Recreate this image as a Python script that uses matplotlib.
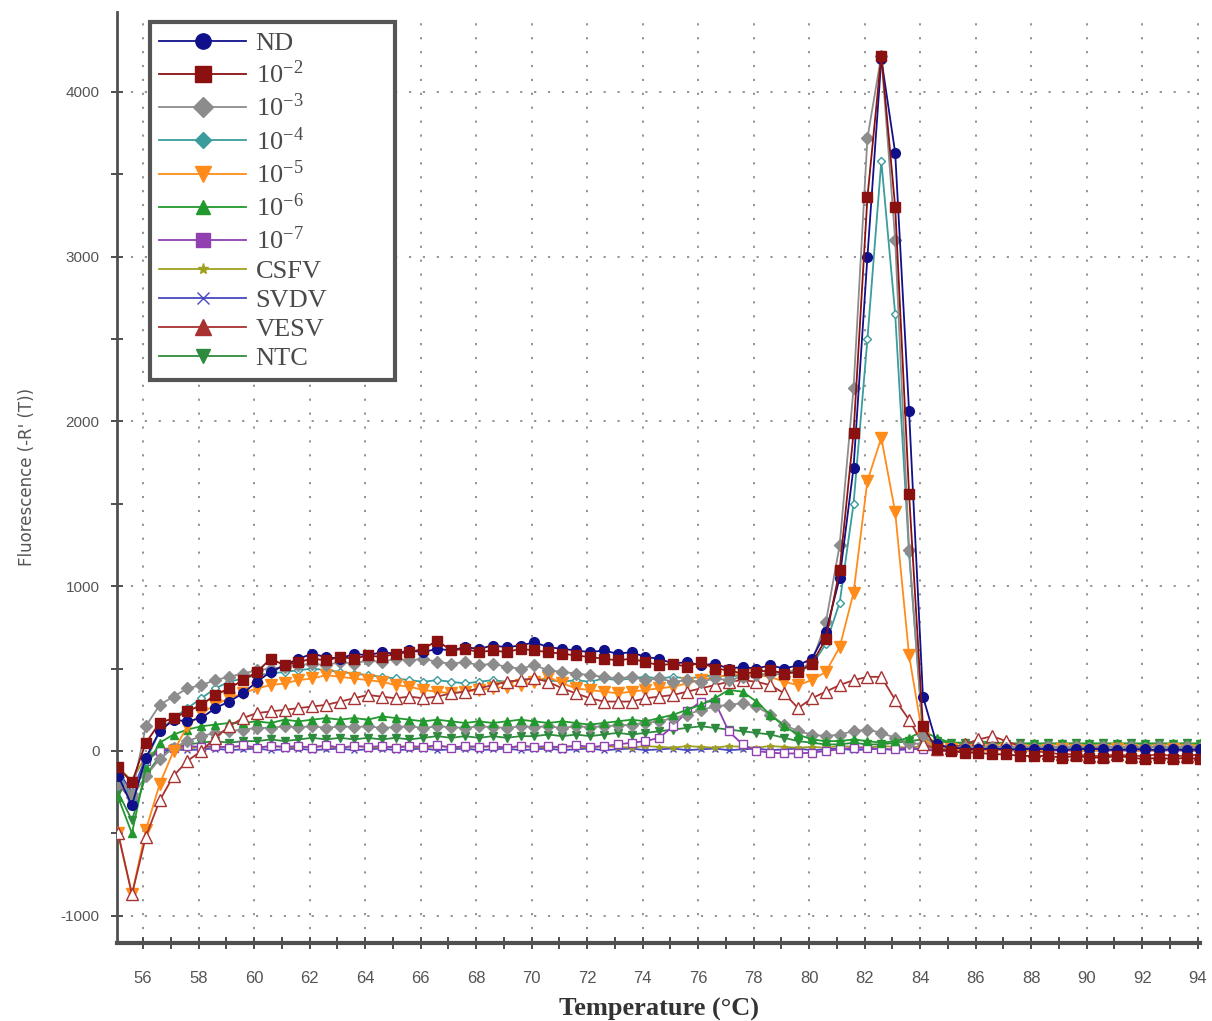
import matplotlib
matplotlib.use("Agg")
import matplotlib.pyplot as plt
import numpy as np
from matplotlib.lines import Line2D
from matplotlib.ticker import MultipleLocator

plt.rcParams['mathtext.fontset'] = 'stix'
plt.rcParams['axes.unicode_minus'] = False

# temperature grid of the melt curve (0.5 degC steps)
temp = np.arange(55.1, 94.15, 0.5)

nd = [-150, -330, -40, 120, 190, 180, 200, 260, 300, 350,
      420, 480, 520, 560, 590, 570, 560, 590, 580, 600,
      590, 610, 600, 620, 610, 630, 620, 640, 630, 640,
      660, 630, 620, 610, 600, 610, 590, 600, 570, 560,
      530, 540, 520, 530, 500, 510, 500, 520, 500, 520,
      560, 720, 1050, 1720, 3000, 4200, 3630, 2060, 330, 40,
      20, 15, 10, 15, 10, 10, 15, 10, 5, 10,
      15, 10, 5, 10, 10, 5, 10, 5, 10]
d2 = [-100, -190, 50, 170, 200, 240, 280, 340, 380, 430,
      480, 560, 520, 540, 560, 550, 570, 560, 580, 570,
      590, 600, 620, 670, 610, 620, 600, 610, 600, 620,
      610, 600, 590, 580, 570, 560, 550, 560, 540, 520,
      530, 510, 540, 500, 490, 470, 480, 490, 470, 480,
      530, 680, 1100, 1930, 3360, 4220, 3300, 1560, 150, 10,
      0, -10, -10, -20, -20, -30, -30, -30, -40, -30,
      -40, -40, -30, -40, -50, -40, -50, -40, -50]
d3 = [-160, -260, 150, 280, 330, 380, 400, 430, 450, 470,
      490, 500, 510, 520, 530, 520, 540, 530, 550, 540,
      560, 550, 560, 540, 530, 540, 520, 530, 510, 500,
      520, 490, 480, 470, 460, 450, 440, 450, 430, 440,
      420, 430, 420, 440, 430, 450, 460, 470, 480, 490,
      540, 780, 1250, 2200, 3720, 4220, 3100, 1220, 100, 20,
      20, 25, 20, 25, 20, 25, 20, 25, 20, 25,
      20, 25, 20, 25, 20, 25, 20, 25, 20]
d4 = [-120, -300, -60, 120, 200, 260, 320, 380, 420, 440,
      460, 470, 480, 490, 500, 490, 480, 470, 460, 450,
      440, 430, 420, 430, 420, 410, 420, 430, 420, 430,
      440, 430, 420, 430, 420, 440, 430, 440, 450, 440,
      450, 440, 450, 460, 450, 460, 470, 460, 470, 480,
      520, 650, 900, 1500, 2500, 3580, 2650, 1200, 100, 20,
      20, 15, 20, 25, 20, 15, 20, 25, 20, 15,
      20, 25, 20, 15, 20, 25, 20, 15, 20]
d5 = [-500, -870, -480, -200, 0, 150, 230, 280, 320, 350,
      380, 400, 410, 430, 440, 460, 450, 440, 430, 420,
      400, 390, 370, 360, 350, 360, 370, 380, 390, 400,
      420, 450, 410, 380, 370, 360, 350, 360, 370, 380,
      390, 410, 430, 450, 460, 470, 460, 450, 420, 400,
      430, 480, 630, 960, 1640, 1900, 1450, 580, 80, 10,
      10, 5, 0, 5, 10, 5, 0, 5, 10, 5,
      0, 5, 10, 5, 0, 5, 10, 5, 0]
d6 = [-280, -500, -100, 50, 100, 130, 150, 160, 170, 170,
      180, 170, 190, 180, 190, 200, 190, 200, 190, 210,
      200, 190, 180, 190, 180, 170, 180, 170, 180, 190,
      180, 170, 180, 170, 160, 170, 180, 190, 180, 200,
      220, 250, 280, 320, 370, 360, 300, 220, 150, 100,
      70, 60, 60, 70, 60, 50, 60, 80, 120, 80,
      50, 50, 60, 50, 50, 40, 50, 40, 50, 40,
      50, 40, 50, 40, 50, 40, 50, 40, 50]
d7 = [-200, -300, -60, 0, 20, 30, 25, 30, 20, 35,
      20, 30, 25, 30, 20, 35, 20, 30, 25, 30,
      20, 30, 25, 35, 20, 30, 25, 30, 20, 30,
      25, 30, 20, 35, 25, 30, 40, 50, 60, 80,
      150, 240, 300, 300, 120, 40, 0, -10, -15, -15,
      -10, 0, 10, 20, 20, 10, 10, 20, 10, 0,
      0, 5, 0, 10, 5, 0, 5, 0, 5, 0,
      5, 0, 5, 0, 5, 0, 5, 0, 0]
csfv = [-100, -180, -30, 10, 20, 15, 25, 20, 30, 25,
        20, 30, 25, 20, 30, 25, 20, 30, 25, 20,
        30, 25, 20, 30, 25, 20, 30, 25, 20, 30,
        25, 20, 30, 25, 20, 30, 25, 20, 30, 25,
        20, 30, 25, 20, 30, 25, 20, 30, 25, 20,
        25, 20, 30, 25, 20, 30, 25, 20, 30, 25,
        20, 25, 20, 25, 20, 25, 20, 25, 20, 25,
        20, 25, 20, 25, 20, 25, 20, 25, 20]
svdv = [-120, -250, -40, 0, 10, 5, 10, 15, 5, 10,
        15, 5, 10, 15, 5, 10, 15, 5, 10, 15,
        5, 10, 15, 5, 10, 15, 5, 10, 15, 5,
        10, 15, 5, 10, 15, 5, 10, 15, 5, 10,
        15, 5, 10, 15, 5, 10, 15, 5, 10, 15,
        5, 10, 15, 5, 10, 15, 5, 10, 15, 5,
        10, 5, 10, 5, 10, 5, 10, 5, 10, 5,
        10, 5, 10, 5, 10, 5, 10, 5, 10]
vesv = [-500, -870, -520, -300, -150, -60, 0, 80, 150, 200,
        230, 240, 250, 260, 270, 280, 300, 320, 340, 330,
        320, 330, 320, 330, 350, 360, 380, 400, 420, 430,
        440, 420, 380, 350, 320, 300, 300, 300, 320, 330,
        340, 360, 380, 400, 420, 430, 420, 400, 350, 260,
        320, 360, 400, 430, 450, 450, 310, 190, 40, 10,
        20, 40, 70, 90, 60, 30, 0, -10, -20, -20,
        -30, -30, -20, -30, -30, -20, -30, -30, -20]
ntc = [-250, -420, -150, -30, 20, 40, 50, 60, 50, 60,
       60, 70, 60, 70, 80, 70, 80, 70, 80, 70,
       80, 70, 80, 90, 80, 90, 80, 90, 80, 90,
       90, 100, 90, 100, 90, 100, 110, 100, 110, 120,
       130, 140, 150, 140, 130, 120, 110, 100, 80, 60,
       50, 40, 40, 50, 40, 40, 50, 60, 70, 60,
       50, 50, 40, 50, 40, 50, 40, 50, 40, 50,
       40, 50, 40, 50, 40, 50, 40, 50, 40]
# grey low band drawn in the chart but not listed in the legend
extra = [-200, -280, -150, -50, 20, 60, 90, 110, 120, 130,
         140, 140, 150, 145, 150, 140, 150, 145, 150, 140,
         145, 150, 140, 150, 145, 140, 150, 145, 140, 150,
         145, 150, 140, 150, 145, 150, 155, 160, 170, 180,
         200, 220, 250, 270, 280, 290, 270, 220, 160, 120,
         100, 90, 100, 120, 130, 110, 80, 50, 40, 30,
         25, 30, 25, 30, 25, 30, 25, 30, 25, 30,
         25, 30, 25, 30, 25, 30, 25, 30, 25]

labels = ['ND', r'10$^{\mathregular{-2}}$', r'10$^{\mathregular{-3}}$', r'10$^{\mathregular{-4}}$',
          r'10$^{\mathregular{-5}}$', r'10$^{\mathregular{-6}}$', r'10$^{\mathregular{-7}}$',
          'CSFV', 'SVDV', 'VESV', 'NTC']
series = [nd, d2, d3, d4, d5, d6, d7, csfv, svdv, vesv, ntc]
colors = ['#10108a', '#8b1010', '#8c8c8c', '#3a9c9c', '#ff8c1a', '#22992e',
          '#9040b0', '#a0a020', '#4848c0', '#a83232', '#2e8b3e']
markers = ['o', 's', 'D', 'D', 'v', '^', 's', '*', 'x', '^', 'v']
msizes = [7, 7, 6, 4, 8, 6, 6, 4, 5, 8, 6]
hollow = [False, False, False, True, False, False, True, False, False, True, False]

fig = plt.figure(figsize=(12.12, 10.21), dpi=100)
ax = fig.add_axes([0.0965, 0.0764, 0.894, 0.912])

order = [10, 8, 7, 6, 5, 3, 4, 9, 2, 0, 1]
for i in order:
    fc = 'white' if hollow[i] else colors[i]
    ax.plot(temp, series[i], color=colors[i], marker=markers[i], ms=msizes[i],
            mfc=fc, mec=colors[i], lw=1.3, zorder=3 + order.index(i))
ax.plot(temp, extra, color='#8c8c8c', marker='D', ms=6, lw=1.3, zorder=6)

ax.set_xlim(55.06, 94.1)
ax.set_ylim(-1165, 4485)
ax.xaxis.set_major_locator(MultipleLocator(2))
ax.xaxis.set_minor_locator(MultipleLocator(1))
ax.yaxis.set_major_locator(MultipleLocator(1000))
ax.yaxis.set_minor_locator(MultipleLocator(500))
ax.set_xticks(np.arange(56, 95, 2))

ax.grid(True, which='major', linestyle=(0, (1.2, 6.5)), color='#8a8a8a', lw=1.3)
for s in ['top', 'right']:
    ax.spines[s].set_visible(False)
ax.spines['left'].set_linewidth(2)
ax.spines['left'].set_color('#505050')
ax.spines['bottom'].set_linewidth(3)
ax.spines['bottom'].set_color('#505050')

ax.tick_params(which='both', direction='inout', color='#404040', width=1.3)
ax.tick_params(which='major', length=9)
ax.tick_params(which='minor', length=9)
ax.tick_params(axis='x', which='major', pad=16, labelsize=12, labelcolor='#555555')
ax.tick_params(axis='y', which='major', pad=8, labelsize=11, labelcolor='#555555')
for t in ax.get_xticklabels() + ax.get_yticklabels():
    t.set_family('Liberation Sans')

ax.set_xlabel('Temperature (°C)', family='Liberation Serif', fontsize=19,
              fontweight='bold', color='#333333', labelpad=8)
ax.set_ylabel("Fluorescence (-R' (T))", family='DejaVu Sans', fontsize=12,
              color='#555555', labelpad=18)

handles = [Line2D([], [], color=colors[i], marker=markers[i], ms=msizes[i] + 4, lw=1.3)
           for i in range(len(labels))]
leg = ax.legend(handles, labels, loc='upper left', bbox_to_anchor=(0.0305, 0.0, 0.2265, 0.989),
                mode='expand', borderaxespad=0,
                prop={'family': 'Liberation Serif', 'size': 19},
                handlelength=3.3, labelspacing=0.21, handletextpad=0.35,
                borderpad=0.35, fancybox=False, framealpha=1)
leg.get_frame().set_edgecolor('#555555')
leg.get_frame().set_linewidth(3)
for t in leg.get_texts():
    t.set_color('#4a4a4a')

fig.savefig('out.png', dpi=100)
